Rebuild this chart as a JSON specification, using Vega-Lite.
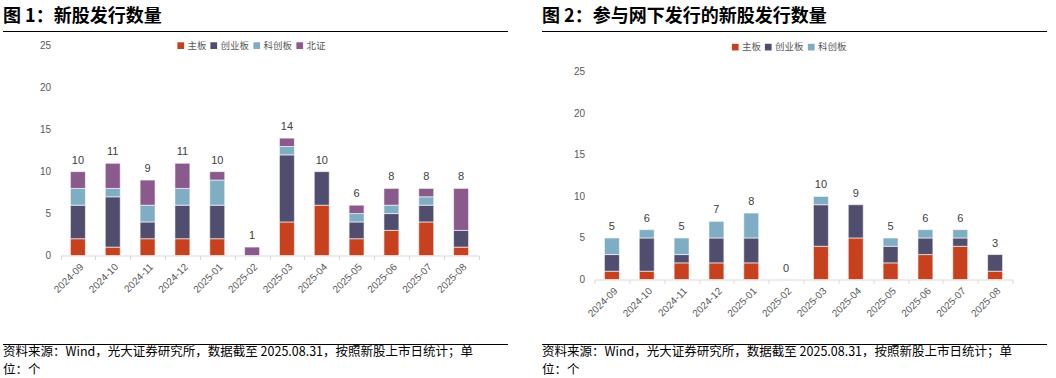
{
  "$schema": "https://vega.github.io/schema/vega-lite/v6.json",
  "padding": {"left": 3, "top": 8, "right": 0, "bottom": 0},
  "background": "white",
  "config": {
    "font": "Liberation Sans, Noto Sans CJK SC",
    "view": {"stroke": null},
    "title": {"font": "Noto Sans CJK SC"}
  },
  "datasets": {
    "d1": [
      {"m": "2024-09", "t": "主板", "v": 2}, {"m": "2024-09", "t": "创业板", "v": 4}, {"m": "2024-09", "t": "科创板", "v": 2}, {"m": "2024-09", "t": "北证", "v": 2},
      {"m": "2024-10", "t": "主板", "v": 1}, {"m": "2024-10", "t": "创业板", "v": 6}, {"m": "2024-10", "t": "科创板", "v": 1}, {"m": "2024-10", "t": "北证", "v": 3},
      {"m": "2024-11", "t": "主板", "v": 2}, {"m": "2024-11", "t": "创业板", "v": 2}, {"m": "2024-11", "t": "科创板", "v": 2}, {"m": "2024-11", "t": "北证", "v": 3},
      {"m": "2024-12", "t": "主板", "v": 2}, {"m": "2024-12", "t": "创业板", "v": 4}, {"m": "2024-12", "t": "科创板", "v": 2}, {"m": "2024-12", "t": "北证", "v": 3},
      {"m": "2025-01", "t": "主板", "v": 2}, {"m": "2025-01", "t": "创业板", "v": 4}, {"m": "2025-01", "t": "科创板", "v": 3}, {"m": "2025-01", "t": "北证", "v": 1},
      {"m": "2025-02", "t": "主板", "v": 0}, {"m": "2025-02", "t": "创业板", "v": 0}, {"m": "2025-02", "t": "科创板", "v": 0}, {"m": "2025-02", "t": "北证", "v": 1},
      {"m": "2025-03", "t": "主板", "v": 4}, {"m": "2025-03", "t": "创业板", "v": 8}, {"m": "2025-03", "t": "科创板", "v": 1}, {"m": "2025-03", "t": "北证", "v": 1},
      {"m": "2025-04", "t": "主板", "v": 6}, {"m": "2025-04", "t": "创业板", "v": 4}, {"m": "2025-04", "t": "科创板", "v": 0}, {"m": "2025-04", "t": "北证", "v": 0},
      {"m": "2025-05", "t": "主板", "v": 2}, {"m": "2025-05", "t": "创业板", "v": 2}, {"m": "2025-05", "t": "科创板", "v": 1}, {"m": "2025-05", "t": "北证", "v": 1},
      {"m": "2025-06", "t": "主板", "v": 3}, {"m": "2025-06", "t": "创业板", "v": 2}, {"m": "2025-06", "t": "科创板", "v": 1}, {"m": "2025-06", "t": "北证", "v": 2},
      {"m": "2025-07", "t": "主板", "v": 4}, {"m": "2025-07", "t": "创业板", "v": 2}, {"m": "2025-07", "t": "科创板", "v": 1}, {"m": "2025-07", "t": "北证", "v": 1},
      {"m": "2025-08", "t": "主板", "v": 1}, {"m": "2025-08", "t": "创业板", "v": 2}, {"m": "2025-08", "t": "科创板", "v": 0}, {"m": "2025-08", "t": "北证", "v": 5}
    ],
    "d2": [
      {"m": "2024-09", "t": "主板", "v": 1}, {"m": "2024-09", "t": "创业板", "v": 2}, {"m": "2024-09", "t": "科创板", "v": 2},
      {"m": "2024-10", "t": "主板", "v": 1}, {"m": "2024-10", "t": "创业板", "v": 4}, {"m": "2024-10", "t": "科创板", "v": 1},
      {"m": "2024-11", "t": "主板", "v": 2}, {"m": "2024-11", "t": "创业板", "v": 1}, {"m": "2024-11", "t": "科创板", "v": 2},
      {"m": "2024-12", "t": "主板", "v": 2}, {"m": "2024-12", "t": "创业板", "v": 3}, {"m": "2024-12", "t": "科创板", "v": 2},
      {"m": "2025-01", "t": "主板", "v": 2}, {"m": "2025-01", "t": "创业板", "v": 3}, {"m": "2025-01", "t": "科创板", "v": 3},
      {"m": "2025-02", "t": "主板", "v": 0}, {"m": "2025-02", "t": "创业板", "v": 0}, {"m": "2025-02", "t": "科创板", "v": 0},
      {"m": "2025-03", "t": "主板", "v": 4}, {"m": "2025-03", "t": "创业板", "v": 5}, {"m": "2025-03", "t": "科创板", "v": 1},
      {"m": "2025-04", "t": "主板", "v": 5}, {"m": "2025-04", "t": "创业板", "v": 4}, {"m": "2025-04", "t": "科创板", "v": 0},
      {"m": "2025-05", "t": "主板", "v": 2}, {"m": "2025-05", "t": "创业板", "v": 2}, {"m": "2025-05", "t": "科创板", "v": 1},
      {"m": "2025-06", "t": "主板", "v": 3}, {"m": "2025-06", "t": "创业板", "v": 2}, {"m": "2025-06", "t": "科创板", "v": 1},
      {"m": "2025-07", "t": "主板", "v": 4}, {"m": "2025-07", "t": "创业板", "v": 1}, {"m": "2025-07", "t": "科创板", "v": 1},
      {"m": "2025-08", "t": "主板", "v": 1}, {"m": "2025-08", "t": "创业板", "v": 2}, {"m": "2025-08", "t": "科创板", "v": 0}
    ]
  },
  "spacing": 5.5,
  "vconcat": [
    {
      "spacing": 34,
      "hconcat": [
        {
          "width": 505, "height": 1,
          "view": {"fill": "black", "stroke": null},
          "title": {"text": "图 1：新股发行数量", "anchor": "start", "fontSize": 18, "fontWeight": "bold", "color": "black", "offset": 5},
          "data": {"values": []},
          "mark": "rule",
          "encoding": {}
        },
        {
          "width": 505, "height": 1,
          "view": {"fill": "black", "stroke": null},
          "title": {"text": "图 2：参与网下发行的新股发行数量", "anchor": "start", "fontSize": 18, "fontWeight": "bold", "color": "black", "offset": 5},
          "data": {"values": []},
          "mark": "rule",
          "encoding": {}
        }
      ]
    },
    {
      "spacing": 24.5,
      "vconcat": [
        {
          "spacing": 63.5,
          "resolve": {"scale": {"color": "independent", "x": "independent", "y": "independent"}, "legend": {"color": "independent"}},
          "hconcat": [
            {
              "width": 475.5, "height": 218,
              "data": {"name": "d1"},
              "transform": [{"calculate": "indexof(['主板','创业板','科创板','北证'], datum.t)", "as": "k"}],
              "layer": [
                {
                  "transform": [{"filter": "datum.v > 0"}],
                  "mark": {"type": "bar", "width": {"band": 0.43}, "stroke": "white", "strokeWidth": 0.6},
                  "encoding": {
                    "x": {"field": "m", "type": "ordinal", "scale": {"paddingInner": 0, "paddingOuter": 0, "range": [57.5, 475.5]},
                      "axis": {"title": null, "labelAngle": -45, "labelFontSize": 10, "labelColor": "#595959", "domainColor": "#d9d9d9", "tickColor": "#d9d9d9", "tickBand": "extent", "tickSize": 4, "labelPadding": 2}},
                    "y": {"field": "v", "type": "quantitative", "stack": "zero", "scale": {"domain": [0, 25]},
                      "axis": {"title": null, "values": [0, 5, 10, 15, 20, 25], "domain": false, "ticks": false, "grid": false, "labelFontSize": 10, "labelColor": "#595959", "labelPadding": 10, "offset": -57.5}},
                    "order": {"field": "k", "type": "quantitative"},
                    "color": {"field": "t", "type": "nominal", "sort": ["主板", "创业板", "科创板", "北证"],
                      "scale": {"domain": ["主板", "创业板", "科创板", "北证"], "range": ["#C8411F", "#514D6E", "#7FADC3", "#8A5A8C"]},
                      "legend": {"orient": "none", "legendX": 173, "legendY": 3, "direction": "horizontal", "title": null, "symbolType": "square", "symbolSize": 45, "symbolStrokeWidth": 0, "labelFontSize": 9.5, "labelColor": "#595959", "labelFont": "Noto Sans CJK SC", "columnPadding": 2, "labelOffset": 2}}
                  }
                },
                {
                  "transform": [{"aggregate": [{"op": "sum", "field": "v", "as": "total"}], "groupby": ["m"]}],
                  "mark": {"type": "text", "dy": -8, "fontSize": 11, "color": "#404040", "baseline": "alphabetic"},
                  "encoding": {
                    "x": {"field": "m", "type": "ordinal"},
                    "y": {"field": "total", "type": "quantitative"},
                    "text": {"field": "total", "type": "quantitative"}
                  }
                }
              ]
            },
            {
              "width": 469, "height": 242,
              "data": {"name": "d2"},
              "transform": [{"calculate": "indexof(['主板','创业板','科创板'], datum.t)", "as": "k"}],
              "layer": [
                {
                  "transform": [{"filter": "datum.v > 0"}],
                  "mark": {"type": "bar", "width": {"band": 0.43}, "stroke": "white", "strokeWidth": 0.6},
                  "encoding": {
                    "x": {"field": "m", "type": "ordinal", "scale": {"paddingInner": 0, "paddingOuter": 0, "range": [51, 469]},
                      "axis": {"title": null, "labelAngle": -45, "labelFontSize": 10, "labelColor": "#595959", "domainColor": "#d9d9d9", "tickColor": "#d9d9d9", "tickBand": "extent", "tickSize": 4, "labelPadding": 2}},
                    "y": {"field": "v", "type": "quantitative", "stack": "zero", "scale": {"domain": [0, 25], "range": [242, 26]},
                      "axis": {"title": null, "values": [0, 5, 10, 15, 20, 25], "domain": false, "ticks": false, "grid": false, "labelFontSize": 10, "labelColor": "#595959", "labelPadding": 10, "offset": -51}},
                    "order": {"field": "k", "type": "quantitative"},
                    "color": {"field": "t", "type": "nominal", "sort": ["主板", "创业板", "科创板"],
                      "scale": {"domain": ["主板", "创业板", "科创板"], "range": ["#C8411F", "#514D6E", "#7FADC3"]},
                      "legend": {"orient": "none", "legendX": 187, "legendY": 4.5, "direction": "horizontal", "title": null, "symbolType": "square", "symbolSize": 45, "symbolStrokeWidth": 0, "labelFontSize": 9.5, "labelColor": "#595959", "labelFont": "Noto Sans CJK SC", "columnPadding": 2, "labelOffset": 2}}
                  }
                },
                {
                  "transform": [{"aggregate": [{"op": "sum", "field": "v", "as": "total"}], "groupby": ["m"]}],
                  "mark": {"type": "text", "dy": -8, "fontSize": 11, "color": "#404040", "baseline": "alphabetic"},
                  "encoding": {
                    "x": {"field": "m", "type": "ordinal"},
                    "y": {"field": "total", "type": "quantitative"},
                    "text": {"field": "total", "type": "quantitative"}
                  }
                }
              ]
            }
          ]
        },
        {
          "spacing": 34,
          "hconcat": [
            {
              "width": 505, "height": 1,
              "view": {"fill": "black", "stroke": null},
              "title": {"text": ["资料来源：Wind，光大证券研究所，数据截至 2025.08.31，按照新股上市日统计；单", "位：个"], "orient": "bottom", "anchor": "start", "fontSize": 12.5, "fontWeight": "normal", "color": "black", "offset": 1, "lineHeight": 18},
              "data": {"values": []},
              "mark": "rule",
              "encoding": {}
            },
            {
              "width": 505, "height": 1,
              "view": {"fill": "black", "stroke": null},
              "title": {"text": ["资料来源：Wind，光大证券研究所，数据截至 2025.08.31，按照新股上市日统计；单", "位：个"], "orient": "bottom", "anchor": "start", "fontSize": 12.5, "fontWeight": "normal", "color": "black", "offset": 1, "lineHeight": 18},
              "data": {"values": []},
              "mark": "rule",
              "encoding": {}
            }
          ]
        }
      ]
    }
  ]
}
